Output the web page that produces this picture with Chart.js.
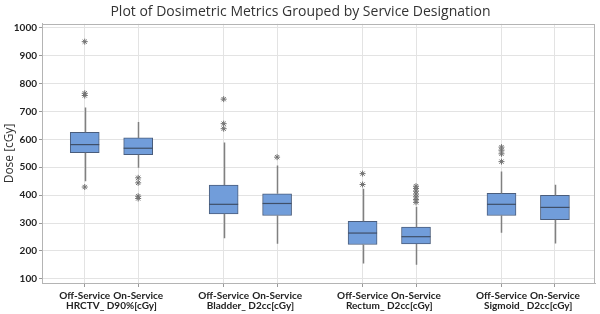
<!DOCTYPE html>
<html><head><meta charset="utf-8">
<script src="https://cdn.jsdelivr.net/npm/chart.js@4/dist/chart.umd.min.js"></script>
<style>html,body{margin:0;padding:0;background:#fff}#w{width:600px;height:314px}</style>
</head><body><div id="w"><canvas id="c"></canvas></div>
<script>
const groups = ['HRCTV_ D90%[cGy]', 'Bladder_ D2cc[cGy]', 'Rectum_ D2cc[cGy]', 'Sigmoid_ D2cc[cGy]'];
const services = ['Off-Service', 'On-Service'];
const positions = [0, 1, 2.6, 3.6, 5.2, 6.2, 7.8, 8.8];
const groupCenters = [0.5, 3.1, 5.7, 8.3];
const whiskerLow = [450, 498, 245, 226, 155, 150, 265, 227];
const q1 = [552, 545, 333, 327, 223, 225, 327, 312];
const median = [581, 568, 367, 370, 264, 251, 367, 356];
const q3 = [625, 605, 436, 405, 306, 285, 406, 399];
const whiskerHigh = [714, 662, 589, 506, 423, 358, 485, 437];
const outliers = [
  [950, 765, 757, 429],
  [462, 444, 396, 388],
  [744, 656, 638],
  [536],
  [477, 438],
  [432, 424, 414, 404, 394, 384, 374],
  [572, 561, 548, 520],
  []
];
const yTicks = [100, 200, 300, 400, 500, 600, 700, 800, 900, 1000];

const boxData = positions.map((p, i) => ({ x: p, y: [q1[i], q3[i]] }));
const outlierData = [];
outliers.forEach((arr, i) => arr.forEach(v => outlierData.push({ x: positions[i], y: v })));

const FONT = "'Open Sans', 'Noto Sans', sans-serif";
const TFONT = "Lato, 'Open Sans', sans-serif";

const boxPlugin = {
  id: 'boxparts',
  afterDatasetDraw(chart, args) {
    if (args.index !== 0) return;
    const ctx = chart.ctx, ys = chart.scales.y;
    const meta = chart.getDatasetMeta(0);
    ctx.save();
    meta.data.forEach((bar, i) => {
      const x = Math.round(bar.x) + 0.5, half = bar.width / 2;
      ctx.strokeStyle = '#808080';
      ctx.lineWidth = 1.5;
      ctx.beginPath();
      ctx.moveTo(x, ys.getPixelForValue(q3[i]));
      ctx.lineTo(x, ys.getPixelForValue(whiskerHigh[i]));
      ctx.moveTo(x, ys.getPixelForValue(q1[i]));
      ctx.lineTo(x, ys.getPixelForValue(whiskerLow[i]));
      ctx.stroke();
      ctx.strokeStyle = '#3f4f68';
      ctx.lineWidth = 1.2;
      const ym = ys.getPixelForValue(median[i]);
      ctx.beginPath();
      ctx.moveTo(bar.x - half, ym);
      ctx.lineTo(bar.x + half, ym);
      ctx.stroke();
    });
    ctx.restore();
  },
  afterDraw(chart) {
    const a = chart.chartArea, ctx = chart.ctx;
    ctx.save();
    ctx.strokeStyle = '#b4b4b4';
    ctx.lineWidth = 1;
    ctx.strokeRect(Math.round(a.left) + 0.5, Math.round(a.top) + 0.5, Math.round(a.right - a.left) - 1, Math.round(a.bottom - a.top));
    ctx.restore();
  }
};

new Chart(document.getElementById('c'), {
  type: 'bar',
  data: {
    datasets: [
      {
        type: 'bar',
        data: boxData,
        backgroundColor: '#719dda',
        borderColor: '#4a5d7c',
        borderWidth: 1,
        borderSkipped: false,
        barThickness: 29
      },
      {
        type: 'scatter',
        data: outlierData,
        pointStyle: 'star',
        radius: 3,
        borderColor: '#707070',
        borderWidth: 1,
        backgroundColor: '#707070'
      }
    ]
  },
  options: {
    responsive: true,
    maintainAspectRatio: false,
    animation: false,
    layout: { padding: { left: 2, right: 1, top: 0, bottom: 0 } },
    plugins: {
      legend: { display: false },
      tooltip: { enabled: false },
      title: {
        display: true,
        text: 'Plot of Dosimetric Metrics Grouped by Service Designation',
        font: { family: FONT, size: 14, weight: 'normal' },
        color: '#333',
        padding: { top: 4, bottom: 3 }
      }
    },
    scales: {
      x: {
        type: 'linear',
        offset: false,
        min: -0.8,
        max: 9.55,
        afterBuildTicks(s) { s.ticks = positions.map(v => ({ value: v })); },
        afterFit(s) { s.height = 16; },
        ticks: {
          autoSkip: false,
          maxRotation: 0,
          padding: 3,
          callback: (v, i) => services[i % 2],
          font: { family: TFONT, size: 10, weight: 'bold' },
          color: '#222'
        },
        grid: { offset: false, color: '#e3e3e3', tickLength: 4, tickColor: '#999' },
        border: { color: '#b4b4b4' }
      },
      x2: {
        type: 'linear',
        position: 'bottom',
        offset: false,
        min: -0.8,
        max: 9.55,
        afterBuildTicks(s) { s.ticks = groupCenters.map(v => ({ value: v })); },
        afterFit(s) { s.height = 15; },
        ticks: {
          autoSkip: false,
          maxRotation: 0,
          padding: 1,
          callback: (v, i) => groups[i],
          font: { family: TFONT, size: 10, weight: 'bold' },
          color: '#222'
        },
        grid: { display: false, drawTicks: false },
        border: { display: false }
      },
      y: {
        min: 85,
        max: 1014,
        afterBuildTicks(s) { s.ticks = yTicks.map(v => ({ value: v })); },
        afterFit(s) { s.width = 40; },
        ticks: {
          padding: 2,
          callback: v => String(v),
          font: { family: TFONT, size: 10, weight: 'bold' },
          color: '#222'
        },
        grid: { color: '#e3e3e3', tickLength: 3, tickColor: '#999' },
        border: { color: '#b4b4b4' },
        title: {
          display: true,
          text: 'Dose [cGy]',
          font: { family: FONT, size: 12 },
          color: '#333',
          padding: 0
        }
      }
    }
  },
  plugins: [boxPlugin]
});
</script></body></html>
